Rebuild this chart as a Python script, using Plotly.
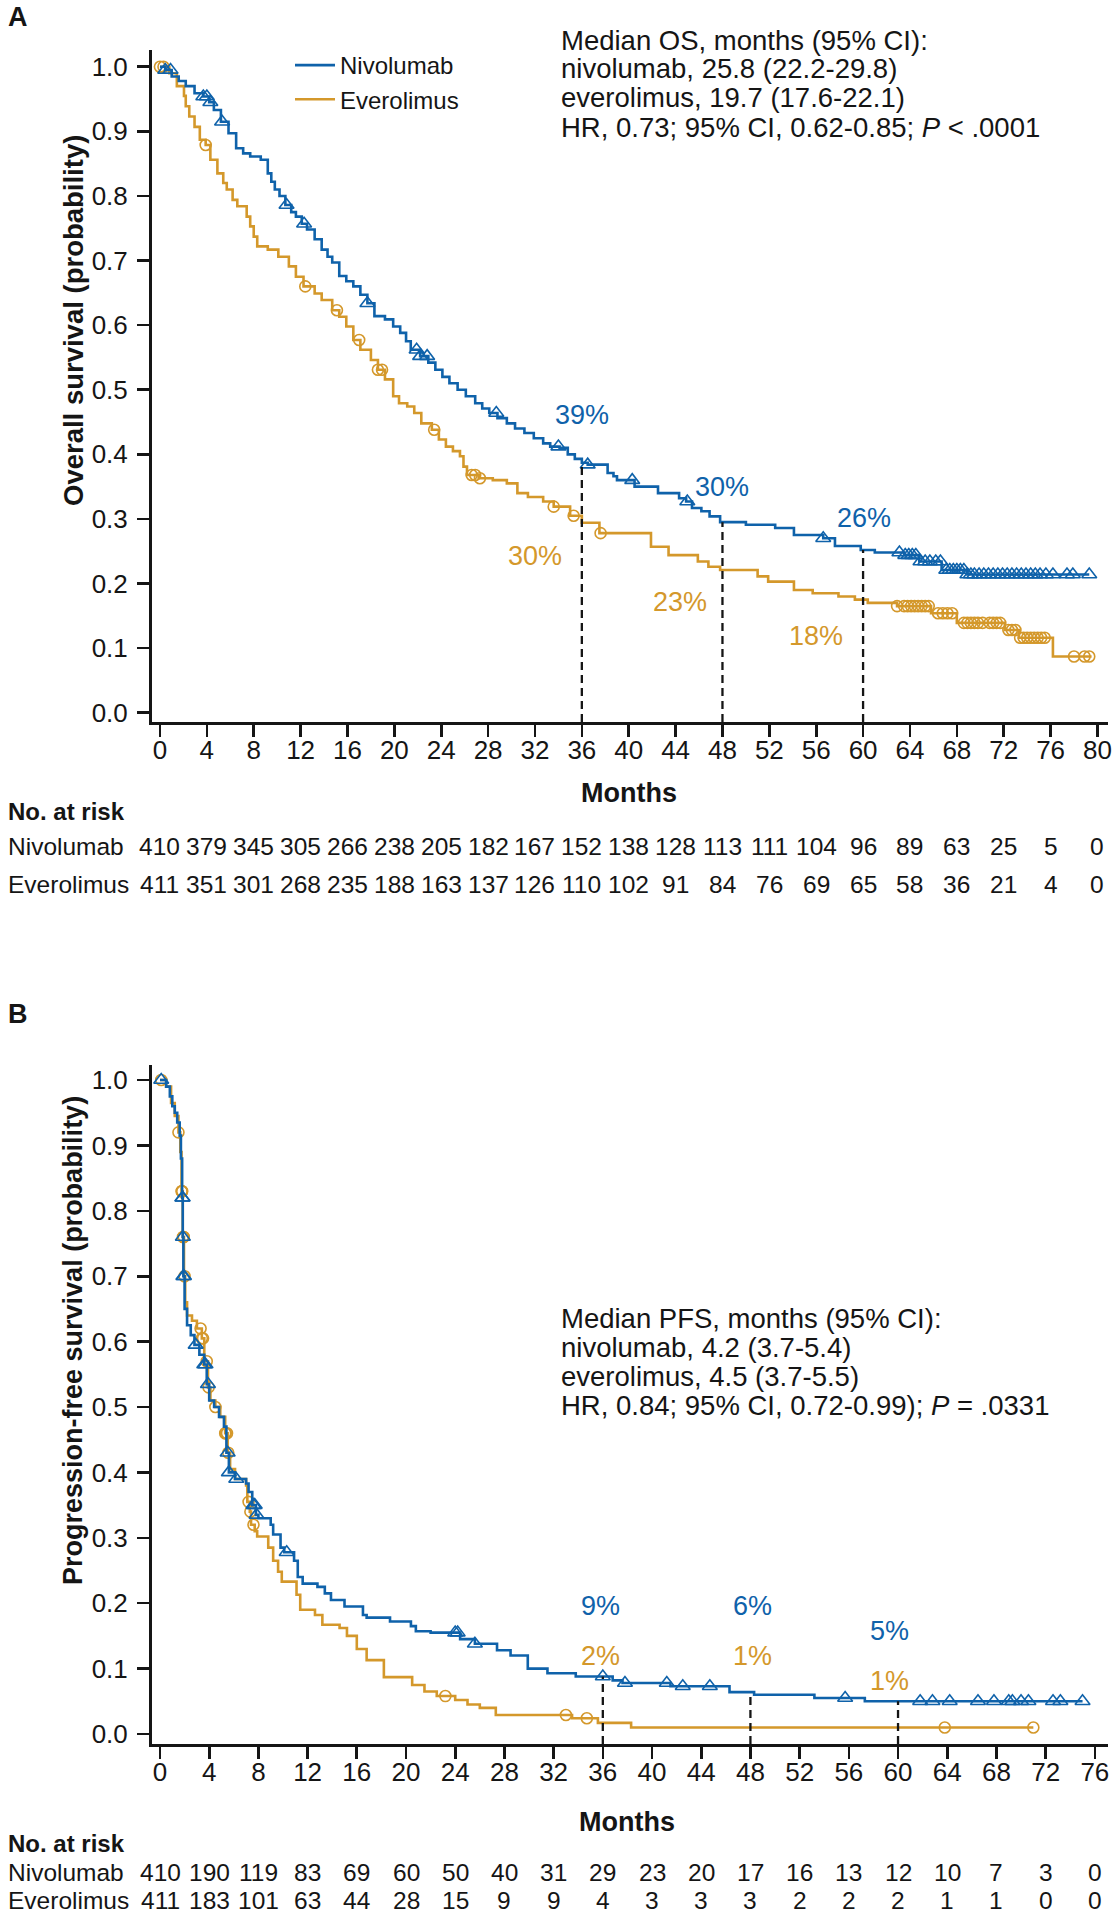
import plotly.graph_objects as go

BLUE = "#0F62AA"
GOLD = "#D4982B"
INK = "#151515"
FONT = "Liberation Sans, Arial, Helvetica, sans-serif"

# ---------------- Panel A: overall survival ----------------
os_nivo_t = [0, 0.45, 1.0, 1.6, 2.2, 2.95, 3.7, 4.2, 4.6, 5.2, 5.85, 6.5, 7.1, 7.7, 8.6, 9.2, 9.5, 9.8,
             10.2, 10.7, 11.2, 11.6, 12.1, 12.55, 13.2, 13.8, 14.3, 14.7, 15.3, 15.9, 16.5, 17.1, 17.7,
             18.3, 19.2, 19.9, 20.5, 21.0, 21.4, 22.2, 22.9, 23.5, 24.1, 24.7, 25.4, 26.1, 26.9, 27.5,
             28.1, 28.8, 29.6, 30.3, 31.1, 31.9, 32.7, 33.3, 34.1, 34.8, 35.4, 36.0, 36.5, 38.2, 38.7,
             39.0, 40.5, 42.5, 44.3, 44.9, 45.4, 46.2, 46.9, 47.8, 50.0, 52.5, 54.1, 56.6, 57.6, 59.8,
             61.0, 63.5, 64.8, 66.7, 68.9, 79.3]
os_nivo_s = [1.0, 0.995, 0.985, 0.978, 0.97, 0.959, 0.954, 0.945, 0.933, 0.915, 0.897, 0.874, 0.866,
             0.861, 0.856, 0.835, 0.822, 0.81, 0.80, 0.786, 0.775, 0.768, 0.757, 0.748, 0.733, 0.717,
             0.706, 0.697, 0.676, 0.668, 0.66, 0.647, 0.634, 0.614, 0.609, 0.598, 0.588, 0.575, 0.562,
             0.552, 0.542, 0.531, 0.52, 0.51, 0.50, 0.49, 0.479, 0.471, 0.464, 0.456, 0.448, 0.44,
             0.433, 0.425, 0.417, 0.412, 0.41, 0.40, 0.393, 0.387, 0.384, 0.371, 0.366, 0.36, 0.35,
             0.34, 0.332, 0.327, 0.317, 0.312, 0.304, 0.295, 0.291, 0.286, 0.275, 0.270, 0.258, 0.252,
             0.248, 0.244, 0.234, 0.221, 0.214, 0.214]
os_nivo_cens = [0.45, 0.9, 3.7, 4.0, 4.3, 5.3, 10.8, 12.3, 17.7, 21.9, 22.2, 22.8, 28.7, 34.0, 36.5,
                40.3, 45.0, 56.6, 63.1, 63.6, 63.9, 64.2, 64.5, 64.9, 65.3, 65.7, 66.2, 66.6, 67.1,
                67.4, 67.7, 68.0, 68.3, 68.6, 68.9, 69.2, 69.5, 69.9, 70.3, 70.7, 71.1, 71.5, 71.9,
                72.3, 72.7, 73.1, 73.5, 73.9, 74.3, 74.7, 75.1, 75.6, 76.2, 77.4, 77.9, 79.3]

os_ever_t = [0, 0.8, 1.44, 2.05, 2.2, 2.5, 2.95, 3.4, 3.9, 4.3, 4.9, 5.4, 5.7, 6.2, 6.6, 7.4, 7.7, 8.0,
             8.3, 9.2, 10.1, 11.0, 11.6, 12.25, 13.2, 13.8, 14.7, 15.3, 15.9, 16.5, 17.1, 18.0, 18.6,
             19.2, 19.9, 20.4, 21.1, 21.7, 22.3, 23.2, 23.8, 24.4, 25.0, 25.6, 25.9, 26.2, 27.2, 28.4,
             29.6, 30.5, 31.4, 32.7, 33.6, 35.0, 36.0, 37.5, 41.9, 43.4, 45.9, 46.8, 47.8, 51.0, 51.9,
             54.1, 55.7, 57.9, 59.3, 60.4, 62.9, 65.8, 68.0, 72.1, 73.3, 76.2, 79.5]
os_ever_s = [1.0, 0.99, 0.97, 0.955, 0.939, 0.923, 0.907, 0.887, 0.879, 0.856, 0.835, 0.82, 0.81,
             0.794, 0.784, 0.768, 0.753, 0.737, 0.722, 0.717, 0.706, 0.691, 0.675, 0.66, 0.649, 0.639,
             0.623, 0.613, 0.598, 0.577, 0.562, 0.546, 0.531, 0.516, 0.49, 0.479, 0.474, 0.464, 0.448,
             0.438, 0.423, 0.412, 0.405, 0.397, 0.381, 0.368, 0.363, 0.36, 0.355, 0.34, 0.334, 0.327,
             0.319, 0.305, 0.294, 0.278, 0.257, 0.244, 0.234, 0.226, 0.221, 0.211, 0.203, 0.19, 0.185,
             0.18, 0.175, 0.17, 0.165, 0.154, 0.139, 0.128, 0.116, 0.087, 0.087]
os_ever_cens = [0.0, 0.3, 3.9, 12.4, 15.1, 17.0, 18.6, 18.95, 23.4, 26.6, 26.9, 27.3, 33.6, 35.3, 37.6,
                62.9, 63.5, 63.8, 64.1, 64.4, 64.7, 65.0, 65.3, 65.6, 66.4, 66.8, 67.2, 67.6, 68.6,
                68.9, 69.2, 69.5, 69.8, 70.2, 70.8, 71.1, 71.4, 71.7, 72.4, 72.7, 73.0, 73.4, 73.7,
                74.0, 74.3, 74.6, 74.9, 75.2, 75.5, 78.0, 78.9, 79.3]

os_months = list(range(0, 81, 4))
os_risk_nivo = [410, 379, 345, 305, 266, 238, 205, 182, 167, 152, 138, 128, 113, 111, 104, 96, 89, 63, 25, 5, 0]
os_risk_ever = [411, 351, 301, 268, 235, 188, 163, 137, 126, 110, 102, 91, 84, 76, 69, 65, 58, 36, 21, 4, 0]
os_marks = [36, 48, 60]
os_pct_nivo = ["39%", "30%", "26%"]
os_pct_ever = ["30%", "23%", "18%"]
os_stats = ["Median OS, months (95% CI):", "nivolumab, 25.8 (22.2-29.8)",
            "everolimus, 19.7 (17.6-22.1)", "HR, 0.73; 95% CI, 0.62-0.85; <i>P</i> < .0001"]

# ---------------- Panel B: progression-free survival ----------------
pfs_nivo_t = [0, 0.5, 0.8, 1.0, 1.2, 1.4, 1.6, 1.7, 1.8, 1.85, 1.9, 2.0, 2.2, 2.5, 2.8, 3.2, 3.6, 3.8,
              4.0, 4.4, 4.8, 5.2, 5.4, 5.6, 6.1, 7.0, 7.2, 7.5, 7.8, 8.0, 9.0, 9.2, 9.8, 10.1, 10.9,
              11.2, 11.6, 12.8, 13.4, 13.9, 15.0, 16.5, 16.8, 18.7, 20.4, 20.8, 22.0, 24.4, 25.6, 27.4,
              28.5, 29.9, 31.5, 33.8, 36.8, 37.6, 41.5, 46.3, 48.3, 53.2, 57.3, 75.0]
pfs_nivo_s = [1.0, 0.99, 0.975, 0.96, 0.95, 0.935, 0.915, 0.88, 0.82, 0.76, 0.70, 0.65, 0.625, 0.61,
              0.595, 0.58, 0.565, 0.535, 0.51, 0.50, 0.485, 0.47, 0.43, 0.40, 0.39, 0.383, 0.37, 0.35,
              0.335, 0.33, 0.32, 0.305, 0.285, 0.278, 0.265, 0.24, 0.23, 0.225, 0.215, 0.205, 0.195,
              0.182, 0.178, 0.172, 0.165, 0.157, 0.155, 0.145, 0.138, 0.128, 0.12, 0.10, 0.093, 0.088,
              0.082, 0.078, 0.073, 0.064, 0.06, 0.055, 0.05, 0.05]
pfs_nivo_cens = [0.1, 1.82, 1.84, 1.86, 1.9, 1.95, 2.9, 3.6, 3.7, 3.9, 5.5, 5.6, 6.2, 7.6, 7.7, 7.85,
                 10.3, 24.0, 24.2, 25.6, 36.0, 37.8, 41.2, 42.5, 44.7, 55.7, 61.8, 62.8, 64.2, 66.5,
                 67.8, 69.0, 69.3, 70.0, 70.6, 72.6, 73.2, 75.0]

pfs_ever_t = [0, 0.5, 0.9, 1.2, 1.5, 1.65, 1.75, 1.85, 1.95, 2.05, 2.2, 2.6, 3.0, 3.4, 3.6, 3.9, 4.1,
              4.5, 4.9, 5.3, 5.5, 5.7, 6.1, 7.0, 7.1, 7.3, 7.4, 7.7, 7.9, 8.8, 9.2, 9.6, 9.9, 11.1,
              11.4, 12.6, 13.2, 14.6, 15.2, 16.0, 16.8, 18.2, 20.5, 21.5, 22.5, 24.0, 25.0, 26.0, 27.3,
              33.5, 35.6, 38.3, 71.0]
pfs_ever_s = [1.0, 0.99, 0.965, 0.945, 0.92, 0.89, 0.83, 0.76, 0.70, 0.66, 0.64, 0.632, 0.62, 0.605,
              0.57, 0.53, 0.51, 0.50, 0.485, 0.46, 0.43, 0.405, 0.39, 0.38, 0.355, 0.34, 0.32, 0.31,
              0.302, 0.285, 0.265, 0.248, 0.233, 0.213, 0.19, 0.182, 0.167, 0.162, 0.15, 0.13, 0.113,
              0.087, 0.075, 0.065, 0.058, 0.052, 0.045, 0.04, 0.029, 0.024, 0.017, 0.01, 0.01]
pfs_ever_cens = [0.1, 1.5, 1.76, 1.78, 1.8, 1.87, 1.9, 1.93, 2.0, 3.3, 3.4, 3.5, 3.8, 3.95, 4.5, 5.3,
                 5.35, 5.45, 5.55, 7.2, 7.35, 7.6, 23.2, 33.0, 34.7, 63.8, 71.0]

pfs_months = list(range(0, 77, 4))
pfs_risk_nivo = [410, 190, 119, 83, 69, 60, 50, 40, 31, 29, 23, 20, 17, 16, 13, 12, 10, 7, 3, 0]
pfs_risk_ever = [411, 183, 101, 63, 44, 28, 15, 9, 9, 4, 3, 3, 3, 2, 2, 2, 1, 1, 0, 0]
pfs_marks = [36, 48, 60]
pfs_pct_nivo = ["9%", "6%", "5%"]
pfs_pct_ever = ["2%", "1%", "1%"]
pfs_stats = ["Median PFS, months (95% CI):", "nivolumab, 4.2 (3.7-5.4)",
             "everolimus, 4.5 (3.7-5.5)", "HR, 0.84; 95% CI, 0.72-0.99); <i>P</i> = .0331"]


def step_at(ts, ss, t):
    v = ss[0]
    for a, b in zip(ts, ss):
        if a <= t:
            v = b
        else:
            break
    return v


W, H = 1118, 1920


def py(pix):
    return 1 - pix / H


fig = go.Figure()

panels = [
    dict(xa="x", ya="y", nivo=(os_nivo_t, os_nivo_s, os_nivo_cens), ever=(os_ever_t, os_ever_s, os_ever_cens),
         legend=True, ymin=-0.0144),
    dict(xa="x2", ya="y2", nivo=(pfs_nivo_t, pfs_nivo_s, pfs_nivo_cens), ever=(pfs_ever_t, pfs_ever_s, pfs_ever_cens),
         legend=False, ymin=-0.0153),
]

for p in panels:
    for key, name, color, sym, size in [("ever", "Everolimus", GOLD, "circle-open", 11),
                                        ("nivo", "Nivolumab", BLUE, "triangle-up-open", 13)]:
        t, s, c = p[key]
        fig.add_trace(go.Scatter(x=t, y=s, mode="lines", name=name, legendrank=1 if key == "nivo" else 2,
                                 line=dict(shape="hv", color=color, width=2.6),
                                 xaxis=p["xa"], yaxis=p["ya"], showlegend=p["legend"], hoverinfo="skip"))
        fig.add_trace(go.Scatter(x=c, y=[step_at(t, s, ci) for ci in c], mode="markers",
                                 marker=dict(symbol=sym, size=size, color=color, line=dict(color=color, width=1.6)),
                                 xaxis=p["xa"], yaxis=p["ya"], showlegend=False, hoverinfo="skip"))

# dashed reference lines (from x-axis up to the nivolumab curve)
for p, marks in [(panels[0], os_marks), (panels[1], pfs_marks)]:
    t, s, _ = p["nivo"]
    for m in marks:
        fig.add_trace(go.Scatter(x=[m, m], y=[p["ymin"], step_at(t, s, m)], mode="lines",
                                 line=dict(color=INK, width=2.3, dash="8px,5px"),
                                 xaxis=p["xa"], yaxis=p["ya"], showlegend=False, hoverinfo="skip"))

ann = []
# percentage labels
pctA_nivo_pos = [(36.0, 0.461), (48.0, 0.35), (60.1, 0.301)]
pctA_ever_pos = [(32.0, 0.242), (44.4, 0.172), (56.0, 0.118)]
pctB_nivo_pos = [(35.8, 0.195), (48.2, 0.195), (59.3, 0.157)]
pctB_ever_pos = [(35.8, 0.12), (48.2, 0.12), (59.3, 0.081)]
for labels, pos, col, xr, yr in [(os_pct_nivo, pctA_nivo_pos, BLUE, "x", "y"),
                                 (os_pct_ever, pctA_ever_pos, GOLD, "x", "y"),
                                 (pfs_pct_nivo, pctB_nivo_pos, BLUE, "x2", "y2"),
                                 (pfs_pct_ever, pctB_ever_pos, GOLD, "x2", "y2")]:
    for lab, (xx, yy) in zip(labels, pos):
        ann.append(dict(x=xx, y=yy, xref=xr, yref=yr, text=lab, showarrow=False,
                        font=dict(size=27, color=col, family=FONT), xanchor="center", yanchor="middle"))

# stats text
for lines, tops in [(os_stats, [40, 69, 98, 127]), (pfs_stats, [1318, 1347, 1376, 1405])]:
    for ln, yp in zip(lines, tops):
        ann.append(dict(x=559 / W, y=py(yp), xref="paper", yref="paper", text=ln, showarrow=False,
                        font=dict(size=27.5, color=INK, family=FONT), xanchor="left", yanchor="middle"))

# panel letters
ann.append(dict(x=6 / W, y=py(17), xref="paper", yref="paper", text="<b>A</b>", showarrow=False,
                font=dict(size=27, color=INK, family=FONT), xanchor="left", yanchor="middle"))
ann.append(dict(x=6 / W, y=py(1014), xref="paper", yref="paper", text="<b>B</b>", showarrow=False,
                font=dict(size=27, color=INK, family=FONT), xanchor="left", yanchor="middle"))

# y axis titles
ann.append(dict(x=73 / W, y=py(321), xref="paper", yref="paper", text="<b>Overall survival (probability)</b>",
                textangle=-90, showarrow=False, font=dict(size=27.5, color=INK, family=FONT),
                xanchor="center", yanchor="middle"))
ann.append(dict(x=73 / W, y=py(1341), xref="paper", yref="paper",
                text="<b>Progression-free survival (probability)</b>",
                textangle=-90, showarrow=False, font=dict(size=27, color=INK, family=FONT),
                xanchor="center", yanchor="middle"))

# x titles and risk tables
for xr, months, rn, re, ys in [("x", os_months, os_risk_nivo, os_risk_ever, (793, 812, 846, 884)),
                               ("x2", pfs_months, pfs_risk_nivo, pfs_risk_ever, (1822, 1843, 1872, 1900))]:
    ymonths, yrisk, ynivo, yever = ys
    ann.append(dict(x=(months[0] + months[-1]) / 2, y=py(ymonths), xref=xr, yref="paper", text="<b>Months</b>",
                    showarrow=False, font=dict(size=27, color=INK, family=FONT), xanchor="center", yanchor="middle"))
    ann.append(dict(x=6 / W, y=py(yrisk), xref="paper", yref="paper", text="<b>No. at risk</b>",
                    showarrow=False, font=dict(size=24, color=INK, family=FONT), xanchor="left", yanchor="middle"))
    for lab, yrow in [("Nivolumab", ynivo), ("Everolimus", yever)]:
        ann.append(dict(x=6 / W, y=py(yrow), xref="paper", yref="paper", text=lab,
                        showarrow=False, font=dict(size=24.5, color=INK, family=FONT), xanchor="left", yanchor="middle"))
    for m, a, b in zip(months, rn, re):
        ann.append(dict(x=m, y=py(ynivo), xref=xr, yref="paper", text=str(a), showarrow=False,
                        font=dict(size=24.5, color=INK, family=FONT), xanchor="center", yanchor="middle"))
        ann.append(dict(x=m, y=py(yever), xref=xr, yref="paper", text=str(b), showarrow=False,
                        font=dict(size=24.5, color=INK, family=FONT), xanchor="center", yanchor="middle"))

axis_common = dict(showline=True, linewidth=3, linecolor=INK, ticks="outside", ticklen=12, tickwidth=2.6,
                   tickcolor=INK, showgrid=False, zeroline=False, mirror=False,
                   tickfont=dict(size=26, color=INK, family=FONT), fixedrange=True)
xdom = [152 / W, 1108 / W]
yticks = [i / 10 for i in range(11)]

fig.update_layout(
    width=W, height=H, margin=dict(l=0, r=0, t=0, b=0, autoexpand=False),
    paper_bgcolor="white", plot_bgcolor="white",
    font=dict(family=FONT, color=INK),
    xaxis=dict(domain=xdom, anchor="y", range=[-0.68, 80.9], tickvals=os_months,
               ticklabelstandoff=-9, **axis_common),
    yaxis=dict(domain=[py(722), py(50)], anchor="x", range=[-0.0144, 1.026], tickvals=yticks,
               tickformat=".1f", ticklabelstandoff=4, **axis_common),
    xaxis2=dict(domain=xdom, anchor="y2", range=[-0.65, 77.07], tickvals=pfs_months,
                ticklabelstandoff=-9, **axis_common),
    yaxis2=dict(domain=[py(1744), py(1065)], anchor="x2", range=[-0.0153, 1.023], tickvals=yticks,
                tickformat=".1f", ticklabelstandoff=4, **axis_common),
    legend=dict(x=290 / W, y=py(43), xanchor="left", yanchor="top", bgcolor="rgba(0,0,0,0)",
                font=dict(size=24, color=INK, family=FONT), tracegroupgap=0, itemwidth=40,
                traceorder="normal"),
    annotations=ann,
    showlegend=True,
)

fig.write_html("out.html", config={"displayModeBar": False, "staticPlot": True},
               post_script="document.body.style.margin='0px'; document.body.style.overflow='hidden';")
